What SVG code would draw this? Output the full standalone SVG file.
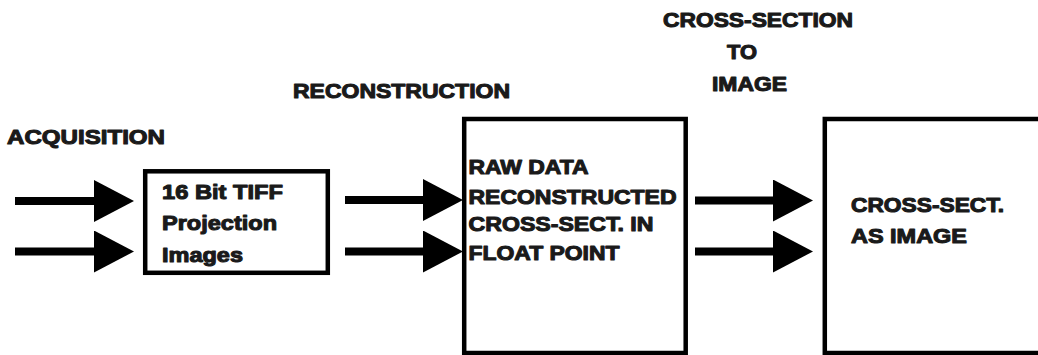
<svg xmlns="http://www.w3.org/2000/svg" width="1038" height="355" viewBox="0 0 1038 355">
  <style>
    .box { fill: #ffffff; stroke: #000000; stroke-width: 4.5; }
    .lbl { font-family: "Liberation Sans", Arial, sans-serif; font-weight: bold; font-size: 21px; fill: #1a1a1a; stroke: #1a1a1a; stroke-width: 1.1; stroke-linejoin: round; }
    .shaft { stroke: #000000; stroke-width: 8; fill: none; marker-end: url(#head); }
  </style>
  <defs>
    <marker id="head" viewBox="0 0 40 42" refX="0" refY="21" markerWidth="40" markerHeight="42" markerUnits="userSpaceOnUse" orient="auto">
      <path d="M0,0 L40,21 L0,42 Z" fill="#000000"/>
    </marker>
  </defs>
  <rect width="1038" height="355" fill="#ffffff"/>

  <!-- stage captions -->
  <g id="stage-labels">
    <text class="lbl" x="7" y="144" textLength="158" lengthAdjust="spacingAndGlyphs">ACQUISITION</text>
    <text class="lbl" x="293" y="98" textLength="217" lengthAdjust="spacingAndGlyphs">RECONSTRUCTION</text>
    <text class="lbl" x="663" y="27" textLength="190" lengthAdjust="spacingAndGlyphs">CROSS-SECTION</text>
    <text class="lbl" x="727" y="59" textLength="30" lengthAdjust="spacingAndGlyphs">TO</text>
    <text class="lbl" x="712" y="91" textLength="75" lengthAdjust="spacingAndGlyphs">IMAGE</text>
  </g>

  <!-- processing stages -->
  <g id="tiff-projections">
    <rect class="box" x="145.2" y="171.3" width="182.6" height="101.5"/>
    <text class="lbl" x="162" y="199" textLength="121" lengthAdjust="spacingAndGlyphs">16 Bit TIFF</text>
    <text class="lbl" x="162" y="230" textLength="115" lengthAdjust="spacingAndGlyphs">Projection</text>
    <text class="lbl" x="162" y="261.5" textLength="81" lengthAdjust="spacingAndGlyphs">Images</text>
  </g>

  <g id="float-reconstruction">
    <rect class="box" x="464.2" y="119" width="221.5" height="234"/>
    <text class="lbl" x="468.5" y="174" textLength="120" lengthAdjust="spacingAndGlyphs">RAW DATA</text>
    <text class="lbl" x="468.5" y="204" textLength="208" lengthAdjust="spacingAndGlyphs">RECONSTRUCTED</text>
    <text class="lbl" x="468.5" y="230.5" textLength="185" lengthAdjust="spacingAndGlyphs">CROSS-SECT. IN</text>
    <text class="lbl" x="468.5" y="260" textLength="151" lengthAdjust="spacingAndGlyphs">FLOAT POINT</text>
  </g>

  <!-- final stage runs past the right edge of the canvas -->
  <g id="cross-section-image">
    <rect class="box" x="824.8" y="119" width="300" height="234"/>
    <text class="lbl" x="851" y="212" textLength="153" lengthAdjust="spacingAndGlyphs">CROSS-SECT.</text>
    <text class="lbl" x="851" y="243" textLength="116" lengthAdjust="spacingAndGlyphs">AS IMAGE</text>
  </g>

  <!-- data flow arrows -->
  <g id="connectors">
    <line class="shaft" x1="15" y1="201" x2="94" y2="201"/>
    <line class="shaft" x1="15" y1="251.5" x2="94" y2="251.5"/>
    <line class="shaft" x1="345" y1="200" x2="423" y2="200"/>
    <line class="shaft" x1="345" y1="251.5" x2="423" y2="251.5"/>
    <line class="shaft" x1="695" y1="200.5" x2="773" y2="200.5"/>
    <line class="shaft" x1="695" y1="251.5" x2="773" y2="251.5"/>
  </g>
</svg>
